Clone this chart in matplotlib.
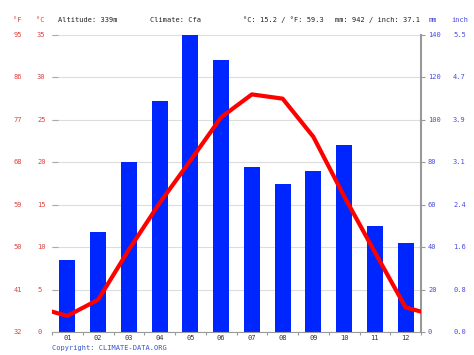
import matplotlib.pyplot as plt
from matplotlib.transforms import blended_transform_factory

months = ["01", "02", "03", "04", "05", "06", "07", "08", "09", "10", "11", "12"]
precip_mm = [34, 47, 80, 109, 140, 128, 78, 70, 76, 88, 50, 42]
temp_c = [1.9, 3.8, 9.7, 15.2, 20.2, 25.3, 28.0, 27.5, 23.0, 16.0, 9.4, 2.9]

c_ticks = [0, 5, 10, 15, 20, 25, 30, 35]
f_ticks = ["32", "41", "50", "59", "68", "77", "86", "95"]
mm_ticks = [0, 20, 40, 60, 80, 100, 120, 140]
inch_ticks = ["0.0", "0.8", "1.6", "2.4", "3.1", "3.9", "4.7", "5.5"]

header = ["Altitude: 339m", "Climate: Cfa", "°C: 15.2 / °F: 59.3", "mm: 942 / inch: 37.1"]

mono = "DejaVu Sans Mono"
red_txt = "#e04040"
blue_txt = "#4a4ae0"
fs = 5.0

fig = plt.figure(figsize=(4.74, 3.55), dpi=100)
W, H = 474, 355
ax = fig.add_axes([52 / W, 1 - 332 / H, (421 - 52) / W, (332 - 35) / H])

x = list(range(1, 13))
ax.bar(x, precip_mm, width=0.52, color="#0026ff", zorder=2)
ax.set_xlim(0.5, 12.5)
ax.set_ylim(0, 140)
for v in mm_ticks:
    ax.axhline(v, color="#dddddd", lw=0.8, zorder=0)

ax2 = ax.twinx()
ax2.set_ylim(0, 35)
# line wraps to the plot edges at the Dec/Jan midpoint
edge = (temp_c[0] + temp_c[-1]) / 2
ax2.plot([0.5] + x + [12.5], [edge] + temp_c + [edge], color="#ff0000", lw=3,
         solid_joinstyle="round", zorder=3)

for a in (ax, ax2):
    for s in ("left", "top", "right", "bottom"):
        a.spines[s].set_visible(False)

ax.spines["bottom"].set_visible(True)
ax.spines["bottom"].set_color("#999999")
ax.spines["right"].set_visible(True)
ax.spines["right"].set_color("#999999")
ax.spines["right"].set_linewidth(1.5)
ax.set_yticks(mm_ticks)
ax.set_yticklabels([])
ax.tick_params(axis="y", left=False, right=True, length=3, color="#999999", direction="out")
ax.set_xticks([i + 0.5 for i in range(0, 13)])
ax.set_xticklabels([])
ax.tick_params(axis="x", length=2, color="#999999", direction="out")

# small inward ticks on the temperature side
ax2.yaxis.set_ticks_position("left")
ax2.set_yticks(c_ticks)
ax2.set_yticklabels([])
ax2.tick_params(axis="y", left=True, right=False, length=4, color="#aaaaaa", direction="in")

# tick labels
tl = blended_transform_factory(fig.transFigure, ax.transData)
for v, f, mm, inch in zip(c_ticks, f_ticks, mm_ticks, inch_ticks):
    ax.text(17.5 / W, mm, f, transform=tl, ha="center", va="center", family=mono,
            fontsize=fs, color=red_txt)
    ax.text(37 / W, mm, str(v), transform=tl, ha="left", va="center", family=mono,
            fontsize=fs, color=red_txt)
    ax.text(428 / W, mm, str(mm), transform=tl, ha="left", va="center", family=mono,
            fontsize=fs, color=blue_txt)
    ax.text(453 / W, mm, inch, transform=tl, ha="left", va="center", family=mono,
            fontsize=fs, color=blue_txt)

tb = blended_transform_factory(ax.transData, fig.transFigure)
for i, m in enumerate(months):
    ax.text(i + 1, 1 - 338 / H, m, transform=tb, ha="center", va="center", family=mono,
            fontsize=fs, color="#333333")

# header
ty = 1 - 20 / H
fig.text(17.5 / W, ty, "°F", ha="center", va="center", family=mono, fontsize=fs, color=red_txt)
fig.text(40 / W, ty, "°C", ha="center", va="center", family=mono, fontsize=fs, color=red_txt)
for xs, s in zip([58, 150, 243, 335], header):
    fig.text(xs / W, ty, s, ha="left", va="center", family=mono, fontsize=fs, color="#222222")
fig.text(433 / W, ty, "mm", ha="center", va="center", family=mono, fontsize=fs, color=blue_txt)
fig.text(460 / W, ty, "inch", ha="center", va="center", family=mono, fontsize=fs, color=blue_txt)

fig.text(52 / W, 1 - 348 / H, "Copyright: CLIMATE-DATA.ORG", ha="left", va="center",
         family=mono, fontsize=fs, color="#3355cc")

fig.savefig("out.png", dpi=100)
